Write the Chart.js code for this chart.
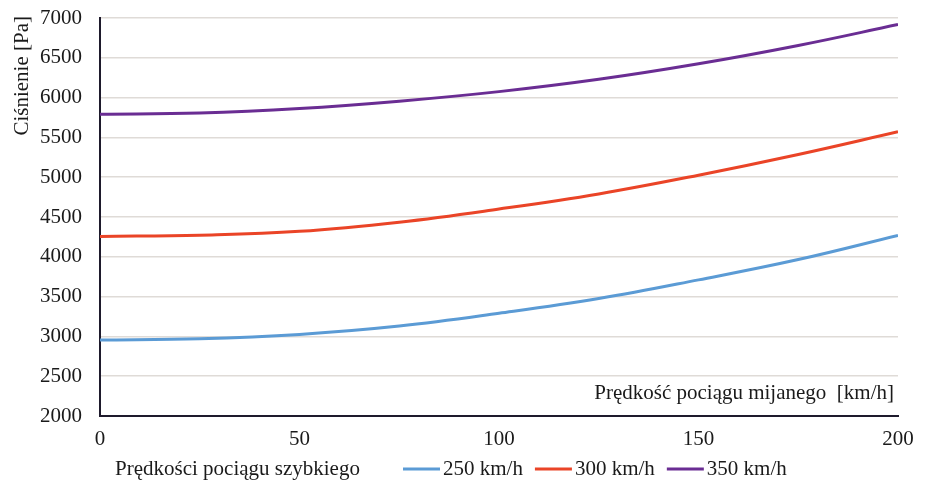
<!DOCTYPE html>
<html lang="pl">
<head>
    <meta charset="UTF-8">
    <title>Ciśnienie</title>
    <style>
        html, body { margin: 0; padding: 0; background: #fff; }
        #wrap { width: 927px; height: 490px; }
    </style>
</head>
<body>
    <div id="wrap">
        <canvas id="myChart" width="927" height="490"></canvas>
    </div>

    <script src="https://cdn.jsdelivr.net/npm/chart.js"></script>

    <script>
        // prędkość pociągu mijanego [km/h]
        const speedPassed = [0, 25, 50, 75, 100, 125, 150, 175, 200];
        // ciśnienie [Pa] dla prędkości pociągu szybkiego
        const p250 = [2955, 2970, 3025, 3130, 3290, 3475, 3710, 3965, 4268];
        const p300 = [4255, 4272, 4320, 4435, 4600, 4790, 5025, 5285, 5570];
        const p350 = [5790, 5805, 5862, 5955, 6075, 6230, 6425, 6655, 6918];
        const seriesLabels = ['250 km/h', '300 km/h', '350 km/h'];
        const yTicks = [2000, 7000, 500]; // min, max, krok
        const xTicks = [0, 200, 50];

        const FONT = '"Liberation Serif", "Times New Roman", serif';
        const TXT = '#1a1a1a';

        const toPoints = arr => arr.map((v, i) => ({ x: speedPassed[i], y: v }));

        // tytuły osi i legenda rysowane ręcznie (układ jak w oryginale)
        const extras = {
            id: 'extras',
            afterDraw(chart) {
                const c = chart.ctx;
                c.save();
                c.fillStyle = TXT;
                c.font = '21px ' + FONT;

                // oś Y - tytuł u góry, pionowo
                c.save();
                c.translate(22, 16);
                c.rotate(-Math.PI / 2);
                c.textAlign = 'right';
                c.textBaseline = 'middle';
                c.fillText('Ciśnienie [Pa]', 0, 0);
                c.restore();

                // oś X - tytuł w środku wykresu, prawy dół
                const a = chart.chartArea;
                c.textAlign = 'right';
                c.textBaseline = 'middle';
                c.fillText('Prędkość pociągu mijanego  [km/h]', a.right - 4, a.bottom - 23);

                // legenda
                const ly = 469;
                c.textAlign = 'left';
                c.fillText('Prędkości pociągu szybkiego', 115, ly);
                let x = 403;
                chart.data.datasets.forEach(ds => {
                    c.strokeStyle = ds.borderColor;
                    c.lineWidth = 3;
                    c.beginPath();
                    c.moveTo(x, ly);
                    c.lineTo(x + 37, ly);
                    c.stroke();
                    x += 40;
                    c.fillText(ds.label, x, ly);
                    x += c.measureText(ds.label).width + 12;
                });
                c.restore();
            }
        };

        new Chart(document.getElementById('myChart'), {
            type: 'line',
            data: {
                datasets: [
                    { label: seriesLabels[0], data: toPoints(p250), borderColor: '#5b9bd5' },
                    { label: seriesLabels[1], data: toPoints(p300), borderColor: '#ea4427' },
                    { label: seriesLabels[2], data: toPoints(p350), borderColor: '#6a2d93' }
                ]
            },
            options: {
                responsive: false,
                animation: false,
                layout: { padding: { top: 18, right: 29, left: 0, bottom: 0 } },
                elements: {
                    line: { borderWidth: 3, tension: 0.4, fill: false },
                    point: { radius: 0 }
                },
                plugins: {
                    legend: { display: false },
                    tooltip: { enabled: false }
                },
                scales: {
                    x: {
                        type: 'linear',
                        min: xTicks[0],
                        max: xTicks[1],
                        ticks: { stepSize: xTicks[2], padding: 11, color: TXT, font: { family: FONT, size: 21 } },
                        grid: { color: 'transparent', drawTicks: false },
                        border: { color: '#1e1a2c', width: 2 },
                        afterFit: s => { s.height = 74; }
                    },
                    y: {
                        min: yTicks[0],
                        max: yTicks[1],
                        ticks: {
                            stepSize: yTicks[2], padding: 18, color: TXT,
                            font: { family: FONT, size: 21 },
                            callback: v => String(v)
                        },
                        grid: { color: '#dfdbd7', lineWidth: 1.5, drawTicks: false },
                        border: { color: '#1e1a2c', width: 2 },
                        afterFit: s => {
                            s.width = 100;
                            // bez dodatkowego marginesu od etykiet na górze / dole
                            s.paddingTop = 0;
                            s.paddingBottom = 0;
                        }
                    }
                }
            },
            plugins: [extras]
        });
    </script>
</body>
</html>
